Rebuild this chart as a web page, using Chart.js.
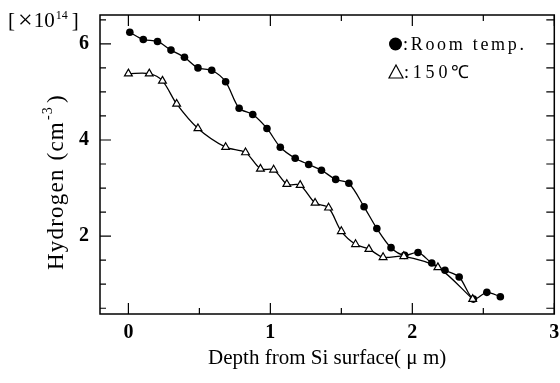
<!DOCTYPE html>
<html>
<head>
<meta charset="utf-8">
<script src="https://cdn.jsdelivr.net/npm/chart.js@4/dist/chart.umd.min.js"></script>
<style>
  html, body { margin: 0; padding: 0; background: #fff; }
</style>
</head>
<body>
<canvas id="chart" width="560" height="383"></canvas>
<script>
// === data ===
const roomDepth = [0.01, 0.105, 0.205, 0.30, 0.395, 0.49, 0.587, 0.685, 0.78, 0.876, 0.976, 1.07, 1.175, 1.27, 1.36, 1.46, 1.553, 1.66, 1.75, 1.85, 1.946, 2.04, 2.137, 2.23, 2.33, 2.43, 2.525, 2.62];
const roomH = [6.24, 6.09, 6.05, 5.87, 5.72, 5.50, 5.45, 5.21, 4.66, 4.53, 4.24, 3.85, 3.62, 3.49, 3.37, 3.18, 3.10, 2.61, 2.16, 1.76, 1.60, 1.66, 1.44, 1.29, 1.15, 0.69, 0.83, 0.74];

const hotDepth = [0, 0.147, 0.24, 0.34, 0.49, 0.685, 0.825, 0.93, 1.023, 1.116, 1.21, 1.315, 1.41, 1.50, 1.60, 1.694, 1.794, 1.94, 2.18, 2.425];
const hotH = [5.38, 5.38, 5.23, 4.75, 4.24, 3.85, 3.74, 3.40, 3.38, 3.08, 3.06, 2.69, 2.59, 2.10, 1.83, 1.73, 1.56, 1.58, 1.35, 0.69];

const xTicks = [0, 1, 2, 3];
const yTicks = [2, 4, 6];
const legendLabels = [":Room temp.", ":150℃"];

const SERIF = "'Liberation Serif', 'Times New Roman', serif";

const toPoints = (xs, ys) => xs.map((x, i) => ({ x, y: ys[i] }));

// frame, inward ticks, legend and the y title
const decorations = {
  id: "decorations",
  afterDraw(chart) {
    const { ctx, chartArea: a, scales } = chart;
    const xs = scales.x, ys = scales.y;
    ctx.save();
    ctx.strokeStyle = "#000";
    ctx.lineWidth = 1.5;
    ctx.strokeRect(a.left, a.top, a.right - a.left, a.bottom - a.top);

    ctx.lineWidth = 1.2;
    ctx.beginPath();
    for (let v = 0; v <= 3.001; v += 0.5) {
      const px = xs.getPixelForValue(v);
      const len = Number.isInteger(v) ? 11 : 6;
      ctx.moveTo(px, a.bottom); ctx.lineTo(px, a.bottom - len);
      ctx.moveTo(px, a.top); ctx.lineTo(px, a.top + len);
    }
    for (let v = 0.5; v <= 6.5; v += 0.5) {
      const py = ys.getPixelForValue(v);
      const len = v % 2 === 0 ? 11 : 6;
      ctx.moveTo(a.left, py); ctx.lineTo(a.left + len, py);
      ctx.moveTo(a.right, py); ctx.lineTo(a.right - 8, py);
    }
    ctx.stroke();

    // legend
    ctx.fillStyle = "#000";
    ctx.beginPath();
    ctx.arc(395.5, 44, 6.5, 0, Math.PI * 2);
    ctx.fill();
    ctx.lineWidth = 1.2;
    ctx.beginPath();
    ctx.moveTo(396, 65); ctx.lineTo(403, 78); ctx.lineTo(389, 78); ctx.closePath();
    ctx.stroke();
    ctx.font = "18px " + SERIF;
    ctx.textBaseline = "alphabetic";
    ctx.letterSpacing = "2.7px";
    ctx.fillText(legendLabels[0], 403, 50);
    ctx.letterSpacing = "3.8px";
    ctx.fillText(legendLabels[1], 404, 78);
    ctx.letterSpacing = "0px";

    // unit bracket
    let x = 8;
    ctx.font = "21px " + SERIF;
    ctx.fillText("[", x, 27); x += ctx.measureText("[").width + 3;
    ctx.font = "26px " + SERIF;
    ctx.fillText("×", x, 28); x += ctx.measureText("×").width + 1;
    ctx.font = "21px " + SERIF;
    ctx.fillText("10", x, 27); x += ctx.measureText("10").width + 1;
    ctx.font = "12px " + SERIF;
    ctx.fillText("14", x, 19); x += ctx.measureText("14").width + 4;
    ctx.font = "21px " + SERIF;
    ctx.fillText("]", x, 27);

    // y title
    ctx.translate(63, 270);
    ctx.rotate(-Math.PI / 2);
    ctx.font = "23px " + SERIF;
    ctx.letterSpacing = "1.2px";
    let t = 0;
    ctx.fillText("Hydrogen", t, 0); t += ctx.measureText("Hydrogen").width + 8;
    ctx.fillText("(cm", t, 0); t += ctx.measureText("(cm").width + 1;
    ctx.font = "14px " + SERIF;
    ctx.fillText("-3", t, -11); t += ctx.measureText("-3").width + 3;
    ctx.font = "23px " + SERIF;
    ctx.fillText(")", t, 0);
    ctx.restore();
  }
};

const ctx = document.getElementById("chart").getContext("2d");
new Chart(ctx, {
  type: "scatter",
  data: {
    datasets: [
      {
        label: "150℃",
        data: toPoints(hotDepth, hotH),
        showLine: true,
        tension: 0.3,
        borderColor: "#000",
        borderWidth: 1.3,
        pointStyle: "triangle",
        pointRadius: 4.5,
        pointBackgroundColor: "#fff",
        pointBorderColor: "#000",
        pointBorderWidth: 1.2
      },
      {
        label: "Room temp.",
        data: toPoints(roomDepth, roomH),
        showLine: true,
        tension: 0.3,
        borderColor: "#000",
        borderWidth: 1.3,
        pointStyle: "circle",
        pointRadius: 3.8,
        pointBackgroundColor: "#000",
        pointBorderColor: "#000",
        pointBorderWidth: 0
      }
    ]
  },
  options: {
    responsive: false,
    animation: false,
    devicePixelRatio: 1,
    layout: { padding: { left: 0, top: 8, right: 4, bottom: 0 } },
    plugins: { legend: { display: false }, tooltip: { enabled: false } },
    scales: {
      x: {
        type: "linear",
        min: -0.2,
        max: 3,
        afterBuildTicks: s => { s.ticks = xTicks.map(v => ({ value: v })); },
        afterFit: s => { s.height = 69; },
        grid: { display: false },
        border: { display: false },
        ticks: { color: "#000", padding: -1, maxRotation: 0, font: { family: SERIF, size: 20, weight: "bold" } },
        title: {
          display: true,
          text: "Depth from Si surface( μ m)",
          color: "#000",
          font: { family: SERIF, size: 21 },
          padding: { top: 0, bottom: 12 }
        }
      },
      y: {
        type: "linear",
        min: 0.38,
        max: 6.6,
        afterBuildTicks: s => { s.ticks = yTicks.map(v => ({ value: v })); },
        afterFit: s => { s.width = 100; },
        grid: { display: false },
        border: { display: false },
        ticks: { color: "#000", padding: 3, font: { family: SERIF, size: 20, weight: "bold" } }
      }
    }
  },
  plugins: [decorations]
});
</script>
</body>
</html>
